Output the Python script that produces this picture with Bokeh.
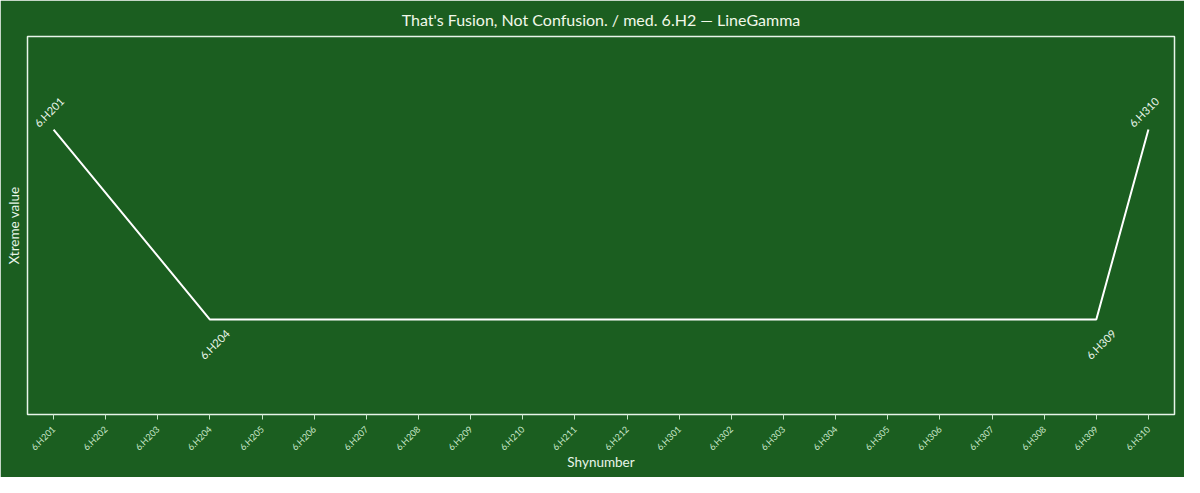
from bokeh.plotting import figure
from bokeh.models import ColumnDataSource, FactorRange, Range1d, LabelSet, FixedTicker
from bokeh.embed import file_html
from bokeh.resources import INLINE
from bokeh.core.properties import value
import math

categories = ["6.H201", "6.H202", "6.H203", "6.H204", "6.H205", "6.H206", "6.H207",
              "6.H208", "6.H209", "6.H210", "6.H211", "6.H212", "6.H301", "6.H302",
              "6.H303", "6.H304", "6.H305", "6.H306", "6.H307", "6.H308", "6.H309", "6.H310"]
point_x = ["6.H201", "6.H204", "6.H309", "6.H310"]
point_y = [1.0, 0.0, 0.0, 1.0]
label_top = ["6.H201", "6.H310"]
label_top_y = [1.0, 1.0]
label_bot = ["6.H204", "6.H309"]
label_bot_y = [0.0, 0.0]

BG = "#1b5e20"
FONT = "Lato"

p = figure(width=1184, height=477, x_range=FactorRange(*categories),
           y_range=Range1d(-0.5, 1.49), output_backend="svg", toolbar_location=None,
           title="That's Fusion, Not Confusion. / med. 6.H2 \u2014 LineGamma")
p.min_border_left = 27
p.min_border_right = 10
p.min_border_top = 36
p.min_border_bottom = 63
p.background_fill_color = BG
p.border_fill_color = BG
p.outline_line_color = "#e8f5e9"
p.outline_line_width = 1.5
p.grid.visible = False

p.title.align = "center"
p.title.text_font = FONT
p.title.text_font_size = "16px"
p.title.text_font_style = "normal"
p.title.text_color = "#f1f8e9"
p.title.standoff = 15

p.xaxis.axis_line_color = None
p.xaxis.major_tick_line_color = "#c8e6c9"
p.xaxis.major_tick_out = 5
p.xaxis.major_tick_in = 0
p.xaxis.major_label_orientation = math.pi / 4
p.xaxis.major_label_standoff = 8
p.xaxis.major_label_text_font = FONT
p.xaxis.major_label_text_font_size = "9px"
p.xaxis.major_label_text_color = "#c8e6c9"
p.xaxis.axis_label = "Shynumber"
p.xaxis.axis_label_text_font = FONT
p.xaxis.axis_label_text_font_size = "13.5px"
p.xaxis.axis_label_text_font_style = "normal"
p.xaxis.axis_label_text_color = "#e8f5e9"
p.xaxis.axis_label_standoff = -5

p.yaxis.ticker = FixedTicker(ticks=[])
p.yaxis.axis_line_color = None
p.yaxis.major_tick_line_color = None
p.yaxis.minor_tick_line_color = None
p.yaxis.axis_label = "Xtreme value"
p.yaxis.axis_label_text_font = FONT
p.yaxis.axis_label_text_font_size = "13.5px"
p.yaxis.axis_label_text_font_style = "normal"
p.yaxis.axis_label_text_color = "#e8f5e9"
p.yaxis.axis_label_standoff = 6

src = ColumnDataSource(dict(x=point_x, y=point_y))
p.line("x", "y", source=src, line_color="#ffffff", line_width=2)

top_src = ColumnDataSource(dict(x=label_top, y=label_top_y, t=label_top))
bot_src = ColumnDataSource(dict(x=label_bot, y=label_bot_y, t=label_bot))
p.add_layout(LabelSet(x="x", y="y", text="t", source=top_src, angle=math.pi / 4,
                      text_align="center", text_baseline="bottom", y_offset=13,
                      text_font=value(FONT), text_font_size="11px", text_color="#e8f5e9"))
p.add_layout(LabelSet(x="x", y="y", text="t", source=bot_src, angle=math.pi / 4,
                      text_align="center", text_baseline="top", y_offset=-20,
                      text_font=value(FONT), text_font_size="11px", text_color="#e8f5e9"))

open("out.html", "w").write(file_html(p, INLINE))
